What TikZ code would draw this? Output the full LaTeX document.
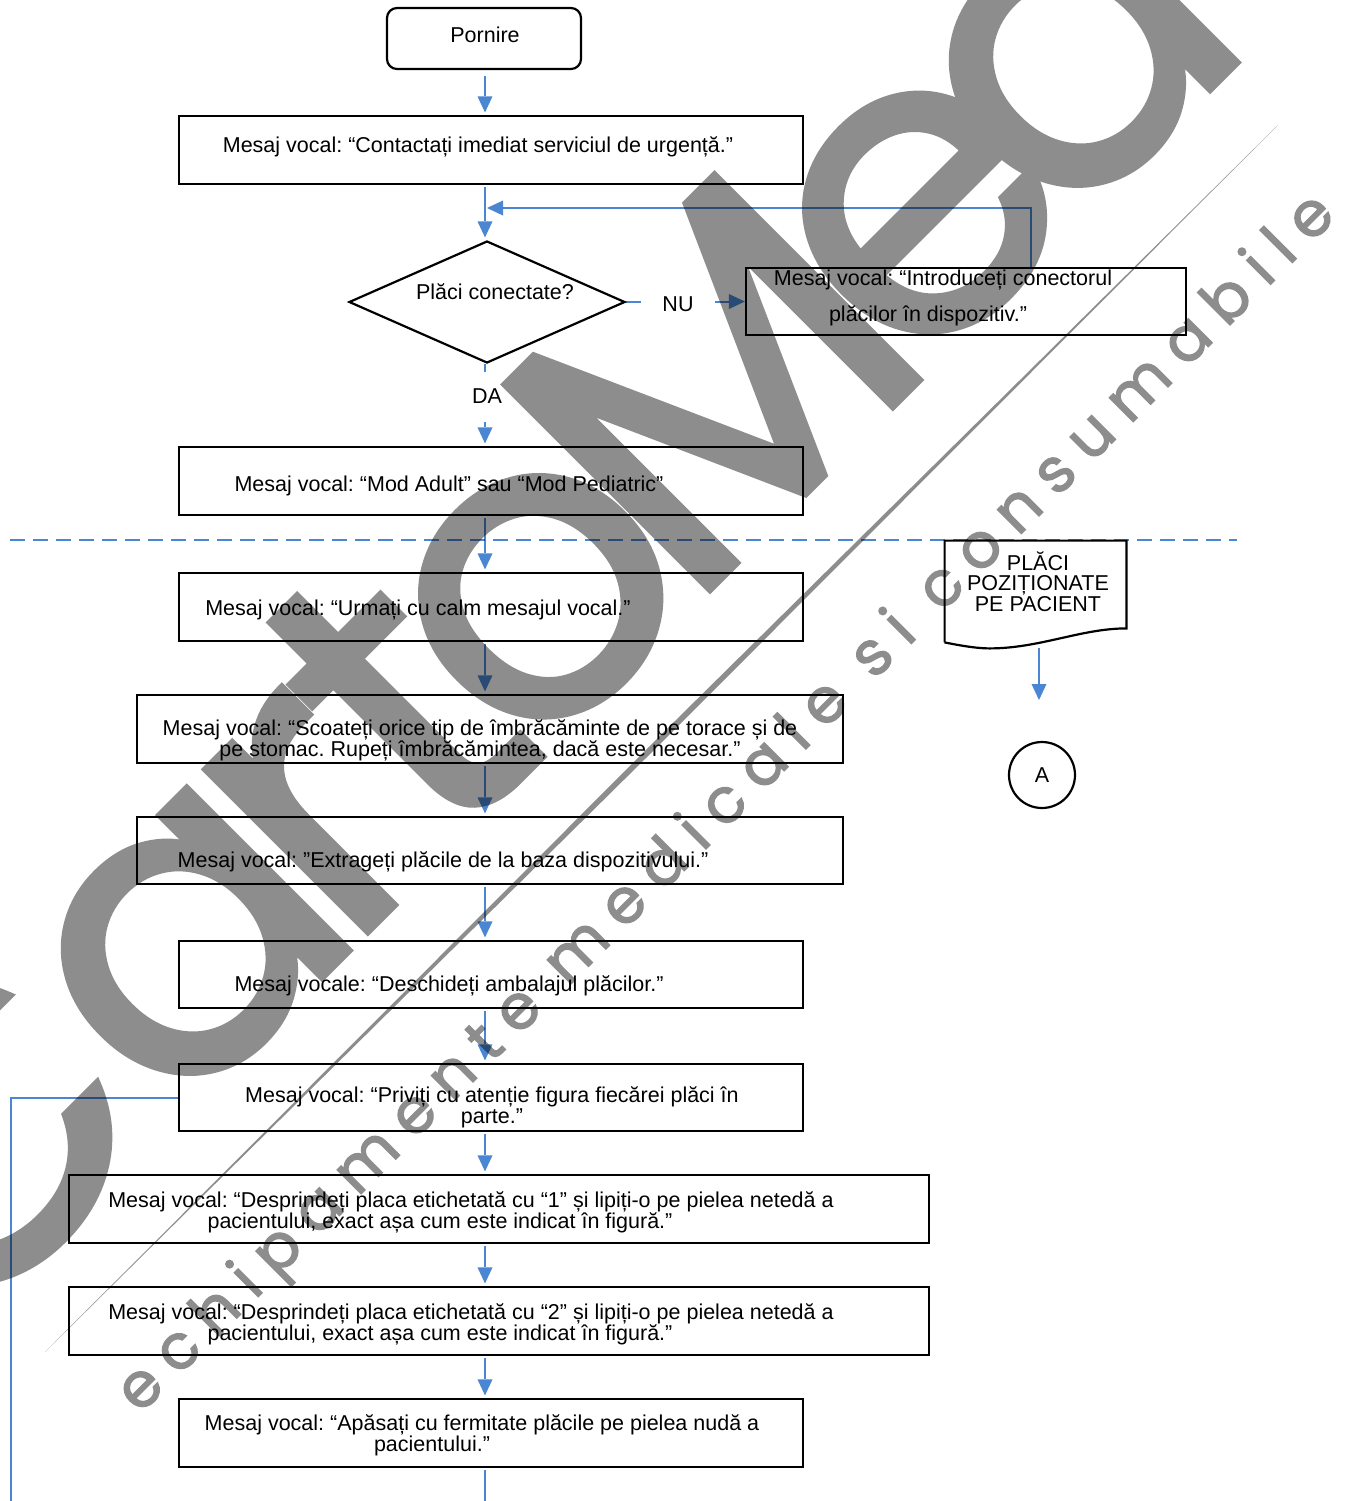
\documentclass[tikz,border=0pt]{standalone}
\usepackage{fontspec}
\setmainfont{Liberation Sans}
\newfontfamily\wmfont[FakeBold=1.5]{Poppins}
\newfontfamily\wmsmallfont[LetterSpace=25,FakeBold=2]{Poppins}
\usetikzlibrary{arrows.meta,calc,shapes.geometric}
\definecolor{flowblue}{RGB}{74,134,210}
\definecolor{wmgray}{RGB}{141,141,141}
\frenchspacing

\begin{document}
\begin{tikzpicture}[x=0.5pt,y=-0.5pt,
  box/.style={draw=black,line width=1.1pt,minimum width=312pt,minimum height=34pt,inner sep=0pt},
  widebox/.style={box,minimum width=353pt},
  widestbox/.style={box,minimum width=430pt},
  txt/.style={font=\fontsize{10.75}{10.5}\selectfont,align=center,inner sep=0pt},
  flow/.style={draw=flowblue,line width=1pt,-{Triangle[length=8pt,width=7.5pt,line width=0pt]},shorten <=1pt,shorten >=1.25pt},
  plain/.style={draw=flowblue,line width=1pt},
  wmletter/.style={rotate=45,anchor=base,inner sep=0pt,text=wmgray,
    font=\wmfont\fontsize{210}{210}\selectfont},
]
\useasboundingbox (0,0) rectangle (1348,1501);
\fill[white] (0,0) rectangle (1348,1501);

% ---- watermark (behind the chart) -------------------------------------
\node[wmletter] (wC) at (60,1240) {C};
\node[wmletter] (wa) at (272,1028) {a};
\node[wmletter] (wr) at (400.5,899.5) {r};
\node[wmletter] (wt) at (499,801) {t};
\node[wmletter] (wo) at (622.5,677.5) {o};
\node[wmletter] (wM) at (815,485) {M};
\node[wmletter] (we) at (1005,295) {e};
\node[wmletter] (wd) at (1160,140) {d};
\fill[wmgray] (45,1352) -- (663.6,740.6) -- (1278,125) -- (659.4,736.4) -- cycle;
\node[rotate=45,inner sep=0pt,text=wmgray,font=\wmsmallfont\fontsize{31}{31}\selectfont] (wtag) at (728,805) {echipamente medicale si consumabile};

\begin{scope}[blend mode=multiply]
% main axis of the vertical flow
\coordinate (ax) at (485,0);

% ---- upper part -------------------------------------------------------
\node[draw,line width=1.1pt,rounded corners=5pt,minimum width=97pt,minimum height=30.5pt,inner sep=0pt] (start) at (484,38.5) {};
\node[txt] (tstart) at (485,35) {Pornire};

\node[box] (b1) at (491,150) {};
\node[txt] (t1) at (478,147) {Mesaj vocal: “Contactați imediat serviciul de urgență.”};

\node[draw,diamond,line width=1.1pt,minimum width=138pt,minimum height=61pt,inner sep=0pt] (dia) at (487,302) {};
\node[txt] (tdia) at (495,292) {Plăci conectate?};

\node[txt,minimum width=37pt] (nulab) at (678,304) {NU};
\node[box,minimum width=220pt,minimum height=33.5pt] (nu) at (966,301.5) {};
\node[txt,font=\fontsize{10.75}{18}\selectfont] (tnu) at (943,298) {Mesaj vocal: “Introduceți conectorul\\plăcilor în dispozitiv.”\hspace*{15pt}};

\node[txt,minimum height=24pt] (dalab) at (487,396) {DA};

\node[box] (b2) at (491,481) {};
\node[txt] (t2) at (449,486) {Mesaj vocal: “Mod Adult” sau “Mod Pediatric”};

% separator
\coordinate (dl) at (10,540);
\coordinate (dr) at (1237,540);
\draw[flowblue,line width=1pt,dash pattern=on 7.5pt off 4pt] (dl) -- (dr);

% ---- lower part -------------------------------------------------------
\node[box] (b3) at (491,607) {};
\node[txt] (t3) at (418,610) {Mesaj vocal: “Urmați cu calm mesajul vocal.”};

\node[widebox] (b4) at (490,729) {};
\node[txt] (t4) at (480,740.5) {Mesaj vocal: “Scoateți orice tip de îmbrăcăminte de pe torace și de\\pe stomac. Rupeți îmbrăcămintea, dacă este necesar.”};

\node[widebox,minimum height=33.5pt] (b5) at (490,850.5) {};
\node[txt] (t5) at (443,862) {Mesaj vocal: ”Extrageți plăcile de la baza dispozitivului.”};

\node[box,minimum height=33.5pt] (b6) at (491,974.5) {};
\node[txt] (t6) at (449,986) {Mesaj vocale: “Deschideți ambalajul plăcilor.”};

\node[box,minimum height=33.5pt] (b7) at (491,1097.5) {};
\node[txt] (t7) at (492,1107) {Mesaj vocal: “Priviți cu atenție figura fiecărei plăci în\\parte.”};

\node[widestbox] (b8) at (499,1209) {};
\node[txt] (t8) at (471,1212.5) {Mesaj vocal: “Desprindeți placa etichetată cu “1” și lipiți-o pe pielea netedă a\\pacientului, exact așa cum este indicat în figură."\hspace*{31pt}};

\node[widestbox] (b9) at (499,1321) {};
\node[txt] (t9) at (471,1324) {Mesaj vocal: “Desprindeți placa etichetată cu “2” și lipiți-o pe pielea netedă a\\pacientului, exact așa cum este indicat în figură."\hspace*{31pt}};

\node[box] (b10) at (491,1433) {};
\node[txt] (t10) at (482,1435) {Mesaj vocal: “Apăsați cu fermitate plăcile pe pielea nudă a\\pacientului.”\hspace*{50pt}};

% document symbol and off-page connector
\node[minimum width=90.5pt,minimum height=43.5pt,inner sep=0pt] (doc) at (1035.5,584.5) {};
\draw[line width=1.1pt] ($(doc.south west)+(0,14)$) -- (doc.north west) -- (doc.north east) -- (doc.south east)
  .. controls ($(doc.south east)+(-45,0)$) and ($(doc.south west)+(95,20)$) .. ($(doc.south west)+(45,20)$)
  .. controls ($(doc.south west)+(30,20)$) and ($(doc.south west)+(10,16)$) .. ($(doc.south west)+(0,14)$);
\node[txt,font=\fontsize{10.75}{10.25}\selectfont] (tdoc) at (1038,581.5) {PLĂCI\\POZIȚIONATE\\PE PACIENT};
\coordinate (docb) at (1039,648);
\coordinate (doca) at (1039,700);
\node[draw,circle,line width=1.1pt,minimum size=33pt,inner sep=0pt,font=\fontsize{10.75}{10.5}\selectfont] (A) at (1042,775) {A};

% ---- connectors -------------------------------------------------------
\draw[flow,shorten <=3pt] (start.south -| ax) -- (b1.north -| ax);
\draw[flow] (b1.south -| ax) -- (dia.north -| ax);
\draw[plain] (dia.east) -- (dia.east -| nulab.west);
\draw[flow,shorten <=0pt,shorten >=0pt] (nulab.east |- nu.west) -- (nu.west);
\coordinate (j1) at (485,208);
\draw[flow,line width=1.2pt,shorten <=0pt,shorten >=1pt] ($(nu.north)+(65,0)$) |- (j1);
\draw[plain] (dia.south -| ax) -- (dalab.north -| ax);
\draw[flow] (dalab.south -| ax) -- (b2.north -| ax);
\draw[flow] (b2.south -| ax) -- (b3.north -| ax);
\draw[flow] (b3.south -| ax) -- (b4.north -| ax);
\draw[flow] (b4.south -| ax) -- (b5.north -| ax);
\draw[flow] (b5.south -| ax) -- (b6.north -| ax);
\draw[flow] (b6.south -| ax) -- (b7.north -| ax);
\draw[flow] (b7.south -| ax) -- (b8.north -| ax);
\draw[flow] (b8.south -| ax) -- (b9.north -| ax);
\draw[flow] (b9.south -| ax) -- (b10.north -| ax);
\coordinate (lb) at (11,1501);
\draw[plain] (b7.west) -| (lb);
\coordinate (bb) at (485,1501);
\draw[plain,shorten <=1pt] (b10.south -| ax) -- (bb);
\draw[flow,shorten <=0pt,shorten >=0pt] (docb) -- (doca);
\end{scope}
\end{tikzpicture}
\end{document}
